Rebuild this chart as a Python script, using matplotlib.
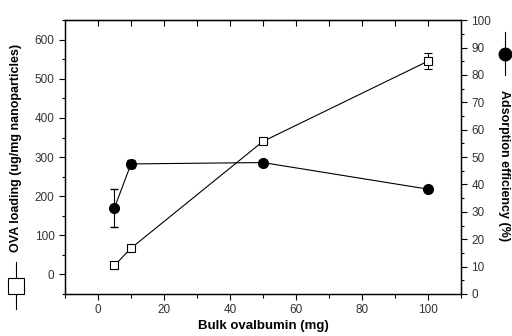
import matplotlib
matplotlib.use("Agg")
import matplotlib.pyplot as plt
from matplotlib.lines import Line2D
from matplotlib.ticker import MultipleLocator

plt.rcParams['font.family'] = ['Liberation Sans', 'DejaVu Sans']

bulk_ova = [5, 10, 50, 100]
ova_loading = [23, 67, 340, 545]
ova_loading_err = [8, 8, 5, 20]
adsorption_eff = [31.5, 47.5, 48, 38.3]
adsorption_err = [7, 1.5, 1, 0.5]

fig = plt.figure(figsize=(5.12, 3.36), dpi=100)
ax = fig.add_axes([0.127, 0.125, 0.773, 0.815])
ax2 = ax.twinx()

ax.errorbar(bulk_ova, ova_loading, yerr=ova_loading_err, color='black', lw=0.8,
            marker='s', ms=5.5, mfc='white', mec='black', mew=0.8, capsize=3, elinewidth=0.8, zorder=3)
ax2.errorbar(bulk_ova, adsorption_eff, yerr=adsorption_err, color='black', lw=0.8,
             marker='o', ms=7, mfc='black', mec='black', capsize=3, elinewidth=0.8, zorder=3)

ax.set_xlim(-10, 110)
ax.set_ylim(-50, 650)
ax2.set_ylim(0, 100)

ax.xaxis.set_minor_locator(MultipleLocator(10))
ax.yaxis.set_minor_locator(MultipleLocator(50))
ax2.yaxis.set_major_locator(MultipleLocator(10))
ax2.yaxis.set_minor_locator(MultipleLocator(5))

ax.set_xticks([0, 20, 40, 60, 80, 100])
ax.set_yticks([0, 100, 200, 300, 400, 500, 600])

ax.tick_params(axis='x', which='both', direction='out', top=False, labelsize=8.5, width=0.8)
ax.tick_params(axis='x', which='major', length=4)
ax.tick_params(axis='x', which='minor', length=3)
ax.tick_params(axis='y', which='both', direction='out', labelsize=8.5, width=0.8)
ax.tick_params(axis='y', which='major', length=4)
ax.tick_params(axis='y', which='minor', length=2.5)
ax2.tick_params(axis='y', which='both', direction='out', labelsize=8.5, width=0.8)
ax2.tick_params(axis='y', which='major', length=4)
ax2.tick_params(axis='y', which='minor', length=2.5)

# top ticks pointing inward
secx = ax.secondary_xaxis('top')
secx.set_xticks([0, 10, 20, 30, 40, 50, 60, 70, 80, 90, 100])
secx.tick_params(direction='in', length=4, width=0.8, labeltop=False)

for a in (ax, ax2):
    for s in a.spines.values():
        s.set_linewidth(0.9)

for lab in ax.get_xticklabels() + ax.get_yticklabels() + ax2.get_yticklabels():
    lab.set_color('#333333')

fig.text(0.515, 0.03, 'Bulk ovalbumin (mg)', ha='center', va='center', fontsize=9.5, fontweight='bold')
fig.text(0.031, 0.561, 'OVA loading (ug/mg nanoparticles)', ha='center', va='center',
         rotation=90, fontsize=9, fontweight='bold')
fig.text(0.984, 0.507, 'Adsorption efficiency (%)', ha='center', va='center',
         rotation=270, fontsize=9, fontweight='bold')

# legend symbols beside the axis labels
fig.add_artist(Line2D([0.031, 0.031], [1 - 309/336, 1 - 262/336], transform=fig.transFigure,
                      color='black', lw=0.8))
fig.add_artist(Line2D([0.031], [1 - 285.5/336], transform=fig.transFigure,
                      color='black', marker='s', ms=11, mfc='white', mec='black', mew=0.8, ls='none'))
fig.add_artist(Line2D([0.986, 0.986], [1 - 75/336, 1 - 32/336], transform=fig.transFigure,
                      color='black', lw=0.8))
fig.add_artist(Line2D([0.986], [1 - 54/336], transform=fig.transFigure,
                      color='black', marker='o', ms=9, mfc='black', ls='none'))

fig.savefig('out.png', dpi=100)
